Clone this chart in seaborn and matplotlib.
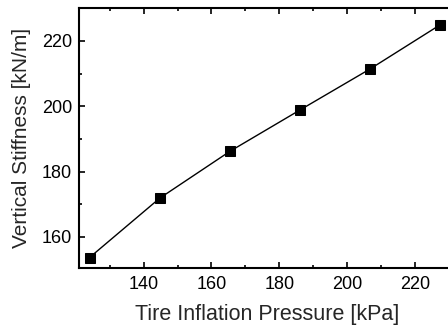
import matplotlib
matplotlib.use("Agg")
import matplotlib.pyplot as plt
import seaborn as sns
import pandas as pd
from matplotlib.ticker import MultipleLocator

# data
pressure = [124.1, 144.8, 165.4, 186.1, 206.8, 227.4]   # kPa
stiffness = [153.7, 171.9, 186.2, 198.9, 211.5, 225.0]  # kN/m

df = pd.DataFrame({"pressure": pressure, "stiffness": stiffness})

sns.set_theme(style="ticks")
plt.rcParams['font.family'] = ['Liberation Sans', 'DejaVu Sans']

fig = plt.figure(figsize=(4.48, 3.25), dpi=100)
ax = fig.add_axes([79 / 448, 1 - 268 / 325, (455 - 79) / 448, 260 / 325])

sns.lineplot(data=df, x="pressure", y="stiffness", ax=ax, color="black",
             linewidth=1.0, marker="s", markersize=7, markeredgecolor="black",
             markerfacecolor="black")

ax.set_xlim(121, 231.7)
ax.set_ylim(150.5, 230.1)
ax.xaxis.set_major_locator(MultipleLocator(20))
ax.xaxis.set_minor_locator(MultipleLocator(10))
ax.yaxis.set_major_locator(MultipleLocator(20))
ax.yaxis.set_minor_locator(MultipleLocator(10))

ax.tick_params(which="both", direction="in", top=True, right=False, width=1.2,
               colors="black", labelsize=13)
ax.tick_params(which="major", length=4.5)
ax.tick_params(which="minor", length=2.5)
ax.tick_params(axis="x", which="major", pad=6)
ax.tick_params(axis="y", which="major", pad=5)
for s in ax.spines.values():
    s.set_linewidth(1.5)
    s.set_color("black")

ax.set_xlabel("Tire Inflation Pressure [kPa]", fontsize=15.5, labelpad=8)
ax.set_ylabel("Vertical Stiffness [kN/m]", fontsize=15, labelpad=8)

fig.savefig("out.png", dpi=100)
